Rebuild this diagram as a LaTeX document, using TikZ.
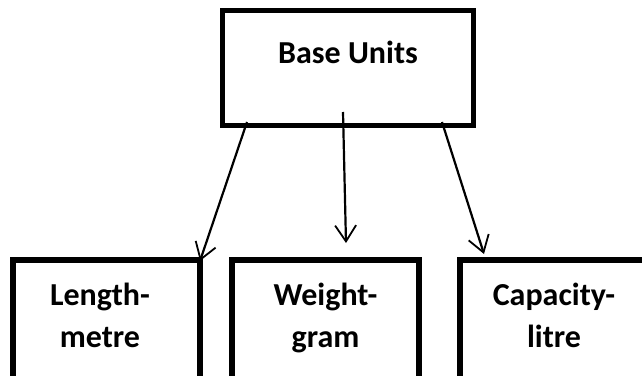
\documentclass[tikz,border=0pt]{standalone}
\usepackage{fontspec}
\setmainfont{Carlito}
\usetikzlibrary{arrows.meta}

\tikzset{
    unitbox/.style={draw=black, line width=5.5pt, outer sep=0pt, inner sep=0pt},
    unitlabel/.style={font=\bfseries\fontsize{32}{42}\selectfont, align=center, inner sep=0pt},
    unitarrow/.style={line width=2.2pt, -{Straight Barb[length=16pt, width=21pt, line width=1.8pt]}}
}

\begin{document}
\begin{tikzpicture}[x=1pt, y=-1pt]
        \useasboundingbox (0,0) rectangle (642,375);
        \clip (0,0) rectangle (642,375);

        \node[unitbox, minimum width=251pt, minimum height=115pt] (base) at (348,68) {};
        \node[unitlabel, anchor=base] (basetext) at (348,63) {Base Units};

        \node[unitbox, minimum width=187pt, minimum height=150pt] (len) at (106.5,335) {};
        \node[unitbox, minimum width=187pt, minimum height=150pt] (wgt) at (325.5,335) {};
        \node[unitbox, minimum width=187pt, minimum height=150pt] (cap) at (553.5,335) {};

        \node[unitlabel, anchor=base] (lentext) at (100,347) {Length-\\metre};
        \node[unitlabel, anchor=base] (wgttext) at (325.5,347) {Weight-\\gram};
        \node[unitlabel, anchor=base] (captext) at (554,347) {Capacity-\\litre};

        \draw[unitarrow] ([xshift=24.5pt, yshift=3.5pt]base.south west) -- ([yshift=-1pt]len.north east);
        \draw[unitarrow] ([xshift=-5pt, yshift=13.5pt]base.south) -- ([xshift=20.5pt, yshift=17pt]wgt.north);
        \draw[unitarrow] ([xshift=-31.5pt, yshift=3.5pt]base.south east) -- ([xshift=24pt, yshift=6pt]cap.north west);
    \end{tikzpicture}
\end{document}
